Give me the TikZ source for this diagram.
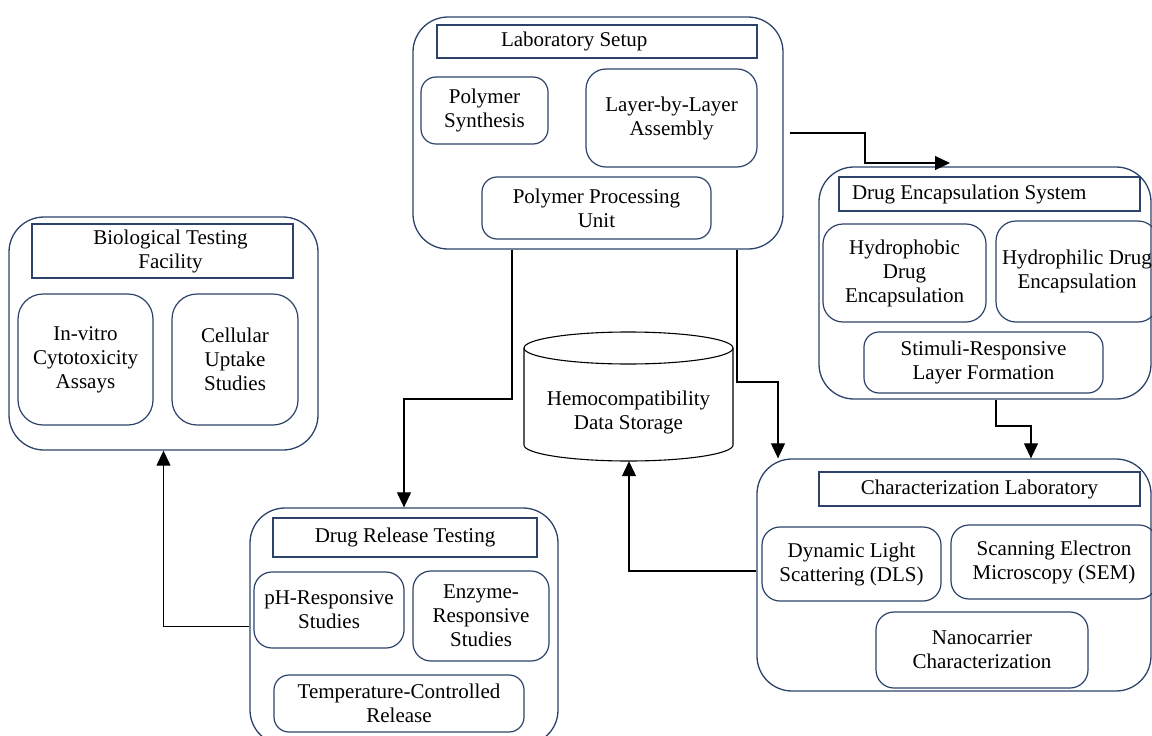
\documentclass[tikz,border=0pt]{standalone}
\usepackage{fontspec}
\setmainfont{Liberation Serif}
\usetikzlibrary{arrows.meta,calc}
\definecolor{boxblue}{RGB}{44,66,105}
\begin{document}
\begin{tikzpicture}[x=1pt,y=-1pt,
  every node/.style={font=\fontsize{21}{24}\selectfont, align=center, inner sep=0pt},
  outer/.style={draw=boxblue, line width=1.3pt, rounded corners=35pt, rectangle},
  inner/.style={draw=boxblue, line width=1.2pt, rounded corners=18pt, rectangle},
  titlebox/.style={draw=boxblue, line width=1.2pt, rectangle},
  conn/.style={draw=black, line width=1.1pt, -{Triangle[length=15pt,width=14pt]}},
  plainline/.style={draw=black, line width=1.1pt}
]
\path[use as bounding box] (0,0) rectangle (1152,736);
\clip (0,0) rectangle (1152,736);

% Laboratory Setup
\node[outer, minimum width=370pt, minimum height=232pt] (labout) at (598,133) {};
\node[titlebox, minimum width=320pt, minimum height=33pt] (labtitle) at (597,41.5) {\makebox[320pt][l]{\hspace{64pt}Laboratory Setup}};
\node[inner, rounded corners=15pt, minimum width=127pt, minimum height=67pt] (polysyn) at (484.5,110.5) {Polymer\\Synthesis};
\node[inner, rounded corners=20pt, minimum width=171pt, minimum height=98pt] (lbl) at (671.5,118) {Layer-by-Layer\\Assembly};
\node[inner, rounded corners=15pt, minimum width=229pt, minimum height=62pt] (ppu) at (596.5,208) {Polymer Processing\\Unit};

% Biological Testing Facility
\node[outer, minimum width=309pt, minimum height=233pt] (bioout) at (163.5,333.5) {};
\node[titlebox, minimum width=261pt, minimum height=54pt] (biotitle) at (162.5,251) {\hspace*{16pt}Biological Testing\\\hspace*{16pt}Facility};
\node[inner, rounded corners=25pt, minimum width=135pt, minimum height=131pt] (invitro) at (85.5,359.5) {In-vitro\\Cytotoxicity\\Assays};
\node[inner, rounded corners=25pt, minimum width=126pt, minimum height=131pt] (cellular) at (235,359.5) {Cellular\\Uptake\\Studies};

% Drug Encapsulation System
\node[outer, minimum width=332pt, minimum height=232pt] (deout) at (985,283) {};
\node[titlebox, minimum width=301pt, minimum height=34pt] (detitle) at (989.5,194) {\makebox[301pt][l]{\hspace{13pt}Drug Encapsulation System}};
\node[inner, rounded corners=20pt, minimum width=163pt, minimum height=98pt] (hydrophob) at (904.5,273) {Hydrophobic\\Drug\\Encapsulation};
\node[inner, rounded corners=20pt, minimum width=162pt, minimum height=101pt] (hydrophil) at (1077,271.5) {Hydrophilic Drug\\Encapsulation};
\node[inner, rounded corners=15pt, minimum width=239pt, minimum height=61pt] (stimuli) at (983.5,362.5) {Stimuli-Responsive\\Layer Formation};

% Characterization Laboratory
\node[outer, minimum width=394pt, minimum height=232pt] (charout) at (954,575) {};
\node[titlebox, minimum width=321pt, minimum height=34pt] (chartitle) at (979.5,489) {Characterization Laboratory};
\node[inner, rounded corners=18pt, minimum width=179pt, minimum height=74pt] (dls) at (851.5,564) {Dynamic Light\\Scattering (DLS)};
\node[inner, rounded corners=18pt, minimum width=206pt, minimum height=74pt] (sem) at (1054,562) {Scanning Electron\\Microscopy (SEM)};
\node[inner, rounded corners=18pt, minimum width=212pt, minimum height=76pt] (nano) at (982,650) {Nanocarrier\\Characterization};

% Drug Release Testing
\node[outer, minimum width=308pt, minimum height=237pt] (drout) at (404,626.5) {};
\node[titlebox, minimum width=264pt, minimum height=39pt] (drtitle) at (405,537.5) {Drug Release Testing};
\node[inner, rounded corners=18pt, minimum width=150pt, minimum height=76pt] (ph) at (329,610) {pH-Responsive\\Studies};
\node[inner, rounded corners=18pt, minimum width=136pt, minimum height=90pt] (enzyme) at (481,616) {Enzyme-\\Responsive\\Studies};
\node[inner, rounded corners=15pt, minimum width=250pt, minimum height=57pt] (temp) at (399,703.5) {Temperature-Controlled\\Release};

% Hemocompatibility Data Storage (cylinder)
\draw[plainline] (628.5,348) ellipse [x radius=104.5, y radius=16];
\draw[plainline] (524,348) -- (524,445) arc [start angle=180, end angle=0, x radius=104.5, y radius=16] -- (733,348);
\node[minimum width=209pt, minimum height=97pt] (hemo) at (628.5,412.5) {Hemocompatibility\\Data Storage};

% Connectors
\coordinate (j1) at (512,399);
\draw[conn] (labout.south -| j1) -- (j1) -| (drout.north);

\coordinate (j2) at (737,382);
\coordinate (j2b) at (778,382);
\draw[conn] (labout.south -| j2) -- (j2) -- (j2b) -- (j2b |- charout.north);

\coordinate (j3) at (865,133);
\coordinate (j3e) at (950,163);
\draw[conn] ([xshift=6pt]labout.east) -- (j3) |- (j3e);

\coordinate (j4) at (996,426);
\coordinate (j4b) at (1031,426);
\draw[conn] (deout.south -| j4) -- (j4) -- (j4b) -- (j4b |- charout.north);

\coordinate (j5) at (629,571);
\draw[conn] (charout.west |- j5) -- (j5) -- (hemo.south -| j5);

\draw[conn] (drout.west) -| (bioout.south);
\end{tikzpicture}
\end{document}
